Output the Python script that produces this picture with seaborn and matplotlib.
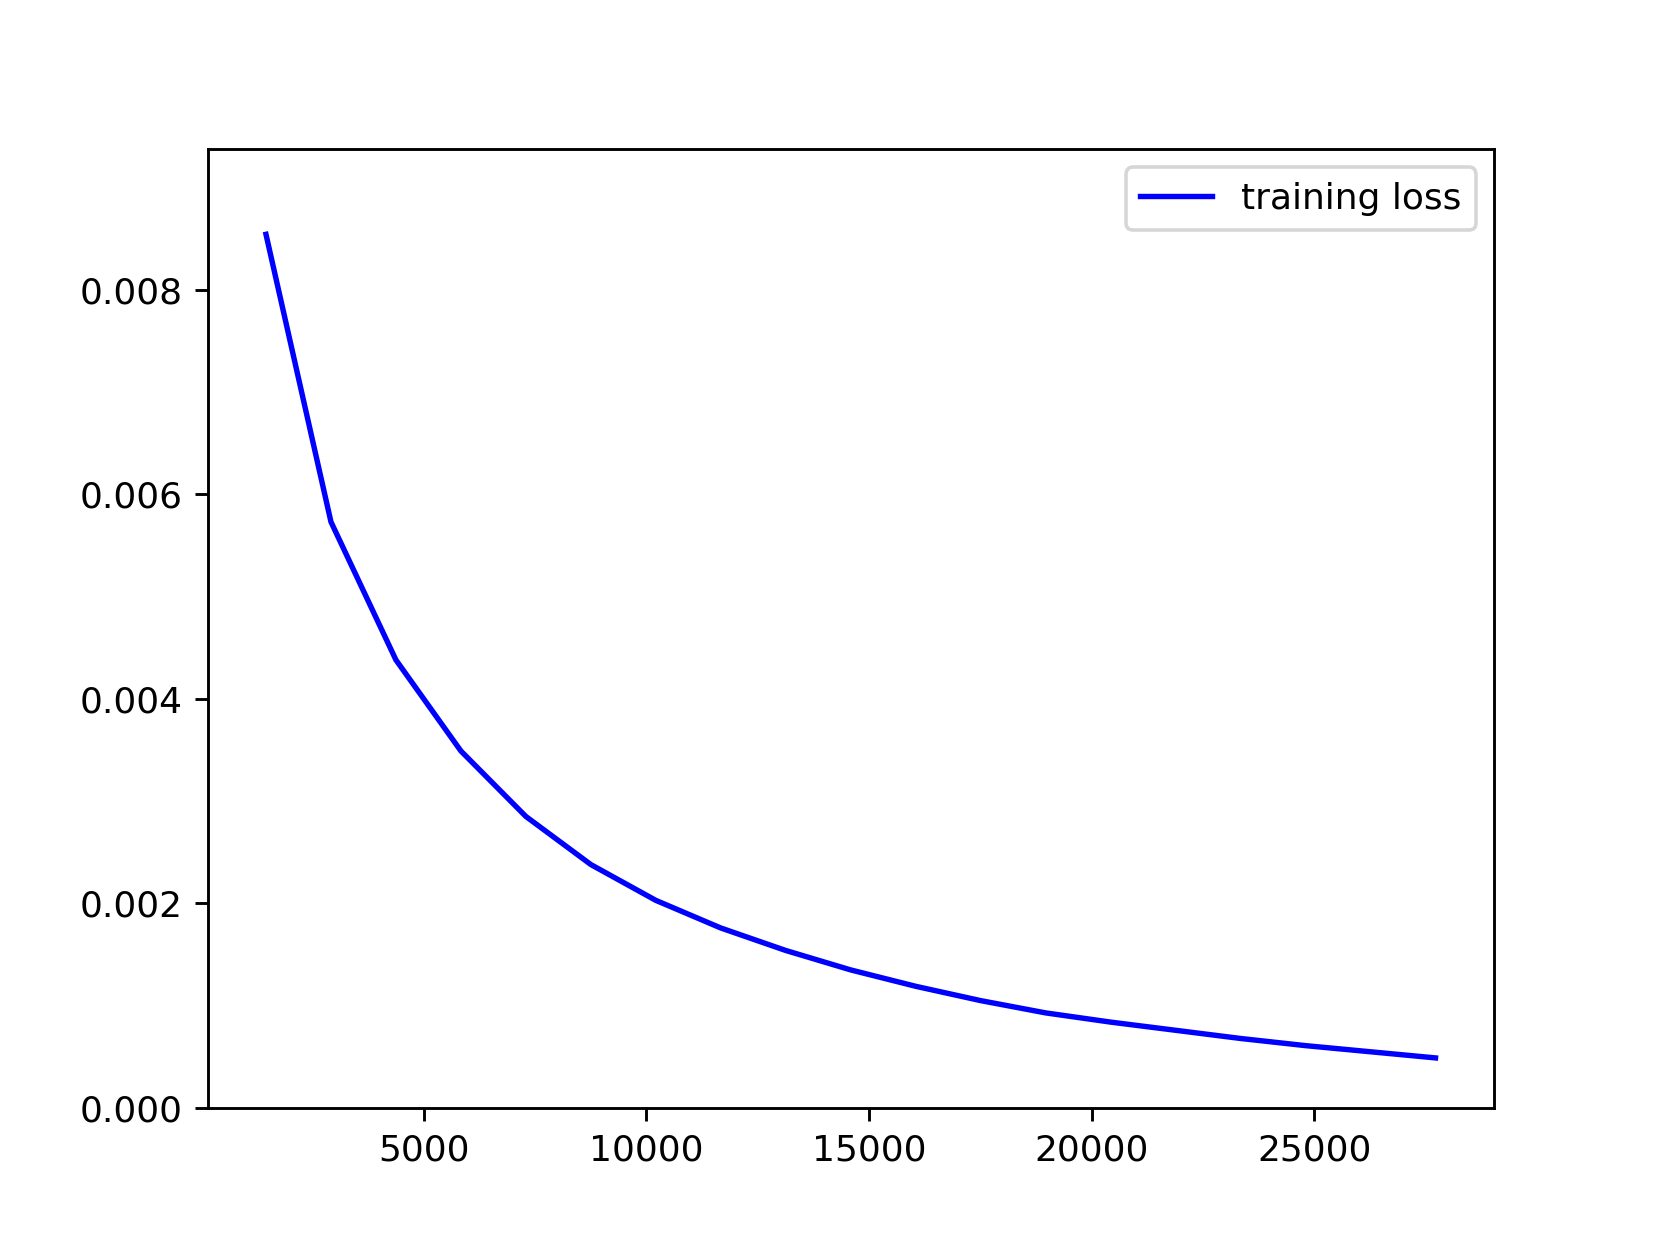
import numpy as np
import pandas as pd
import matplotlib
matplotlib.use("Agg")
import matplotlib.pyplot as plt
import seaborn as sns

# training steps and loss values
steps = [1459, 2918, 4377, 5836, 7295, 8754, 10213, 11672, 13131, 14590,
         16049, 17508, 18967, 20426, 21885, 23344, 24803, 26262, 27721]
loss = [0.00854, 0.00573, 0.00438, 0.00349, 0.00285, 0.00238, 0.00203,
        0.00176, 0.00154, 0.00135, 0.00119, 0.00105, 0.00093, 0.00084,
        0.00076, 0.00068, 0.00061, 0.00055, 0.00049]

df = pd.DataFrame({"step": steps, "loss": loss})

fig, ax = plt.subplots(figsize=(6.4, 4.8))
sns.lineplot(data=df, x="step", y="loss", color="blue", label="training loss", ax=ax)
ax.set_ylim(0, 0.00937)
ax.set_yticks([0.0, 0.002, 0.004, 0.006, 0.008])
ax.set_xlabel("")
ax.set_ylabel("")
ax.legend(loc="upper right")

plt.savefig("out.png", dpi=259.375)
plt.close()
